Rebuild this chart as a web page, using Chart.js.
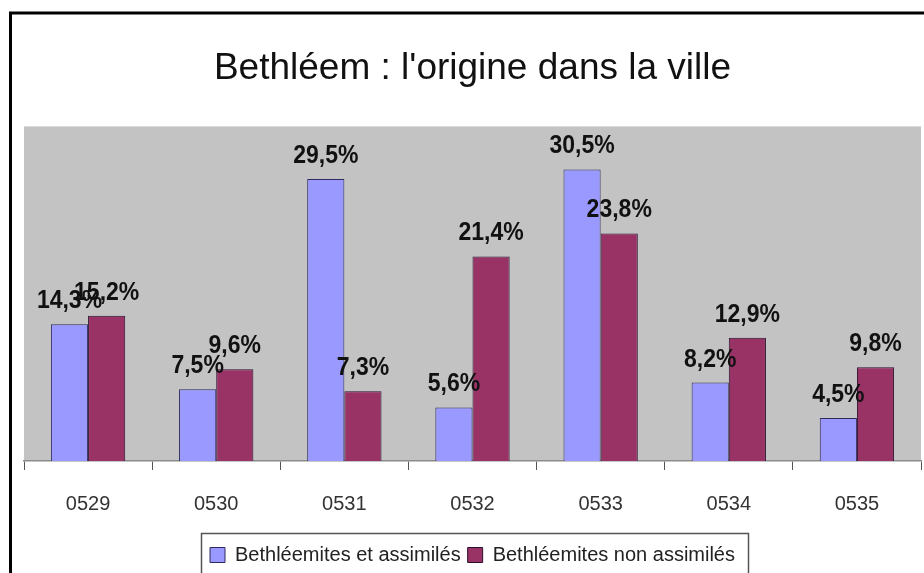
<!DOCTYPE html>
<html>
<head>
<meta charset="utf-8">
<script src="https://cdn.jsdelivr.net/npm/chart.js@4/dist/chart.umd.min.js"></script>
<style>
    body { margin: 0; background: #fff; }
    #wrap { width: 924px; height: 573px; position: relative; }
</style>
</head>
<body>
<div id="wrap"><canvas id="basic-chart"></canvas></div>
<script>
var categories = ["0529", "0530", "0531", "0532", "0533", "0534", "0535"];
var assimiles = [14.3, 7.5, 29.5, 5.6, 30.5, 8.2, 4.5];
var nonAssimiles = [15.2, 9.6, 7.3, 21.4, 23.8, 12.9, 9.8];
var seriesNames = ["Bethléemites et assimilés", "Bethléemites non assimilés"];
var titleText = "Bethléem : l'origine dans la ville";

var FONT = "'Liberation Sans', Arial, sans-serif";

// gray plot background + outer frame
var backgroundPlugin = {
    id: 'plotBackground',
    beforeDraw: function(chart){
        var ctx = chart.ctx;
        var a = chart.chartArea;
        ctx.save();
        ctx.fillStyle = "#C3C3C3";
        ctx.fillRect(a.left, a.top, a.right - a.left, a.bottom - a.top);
        // frame of the whole chart (only top and left are visible)
        ctx.strokeStyle = "#000";
        ctx.lineWidth = 3;
        ctx.beginPath();
        ctx.moveTo(10.5, 580);
        ctx.lineTo(10.5, 13);
        ctx.lineTo(930, 13);
        ctx.stroke();
        ctx.restore();
    }
};

// value labels above every bar (slightly stretched like the original)
var valueLabelPlugin = {
    id: 'valueLabels',
    afterDatasetsDraw: function(chart){
        var ctx = chart.ctx;
        ctx.save();
        ctx.font = "bold 23px " + FONT;
        ctx.fillStyle = "#111";
        ctx.textAlign = "center";
        ctx.textBaseline = "alphabetic";
        chart.data.datasets.forEach(function(ds, i){
            var meta = chart.getDatasetMeta(i);
            meta.data.forEach(function(bar, j){
                var txt = ds.data[j].toFixed(1).replace(".", ",") + "%";
                var y = bar.y - 16;
                ctx.save();
                ctx.translate(bar.x, y);
                ctx.scale(1, 1.15);
                ctx.fillText(txt, 0, 0);
                ctx.restore();
            });
        });
        ctx.restore();
    }
};

// box around the legend
var legendBoxPlugin = {
    id: 'legendBox',
    afterDraw: function(chart){
        var hb = chart.legend.legendHitBoxes;
        if(!hb || !hb.length) return;
        var left = hb[0].left, right = 0;
        hb.forEach(function(h){
            left = Math.min(left, h.left);
            right = Math.max(right, h.left + h.width);
        });
        var ctx = chart.ctx;
        ctx.save();
        ctx.strokeStyle = "#555";
        ctx.lineWidth = 1.5;
        ctx.strokeRect(Math.round(left - 9) + 0.5, 533.5, Math.round(right - left + 22), 50);
        ctx.restore();
    }
};

var ctx = document.getElementById("basic-chart").getContext('2d');
var data = {
    labels: categories,
    datasets: [
        {
            label: seriesNames[0],
            data: assimiles,
            backgroundColor: "#9999FF",
            borderColor: "#2E2A5C",
            borderWidth: 1
        },
        {
            label: seriesNames[1],
            data: nonAssimiles,
            backgroundColor: "#993366",
            borderColor: "#2A1030",
            borderWidth: 1
        }
    ]
};
var options = {
    responsive: true,
    maintainAspectRatio: false,
    animation: false,
    datasets: {
        bar: { categoryPercentage: 0.58, barPercentage: 1.0 }
    },
    layout: {
        padding: { left: 24, right: 3, top: 0, bottom: -2 }
    },
    scales: {
        x: {
            grid: {
                display: true,
                drawOnChartArea: false,
                drawTicks: true,
                tickLength: 9,
                offset: true,
                color: "#555"
            },
            border: { display: true, color: "#8C8C8C", width: 1.5 },
            ticks: {
                color: "#333",
                padding: 22,
                font: { family: FONT, size: 20 }
            }
        },
        y: {
            display: false,
            min: 0,
            max: 35
        }
    },
    plugins: {
        title: {
            display: true,
            text: titleText,
            color: "#111",
            font: { family: FONT, size: 37, weight: 'normal' },
            padding: { top: 47, bottom: 35 }
        },
        legend: {
            display: true,
            position: "bottom",
            labels: {
                color: "#222",
                boxWidth: 15,
                boxHeight: 15,
                padding: 7,
                font: { family: FONT, size: 20 }
            }
        },
        tooltip: { enabled: false }
    }
};
var testBarChart = new Chart(ctx, {
    type: 'bar',
    data: data,
    options: options,
    plugins: [backgroundPlugin, valueLabelPlugin, legendBoxPlugin]
});
</script>
</body>
</html>
